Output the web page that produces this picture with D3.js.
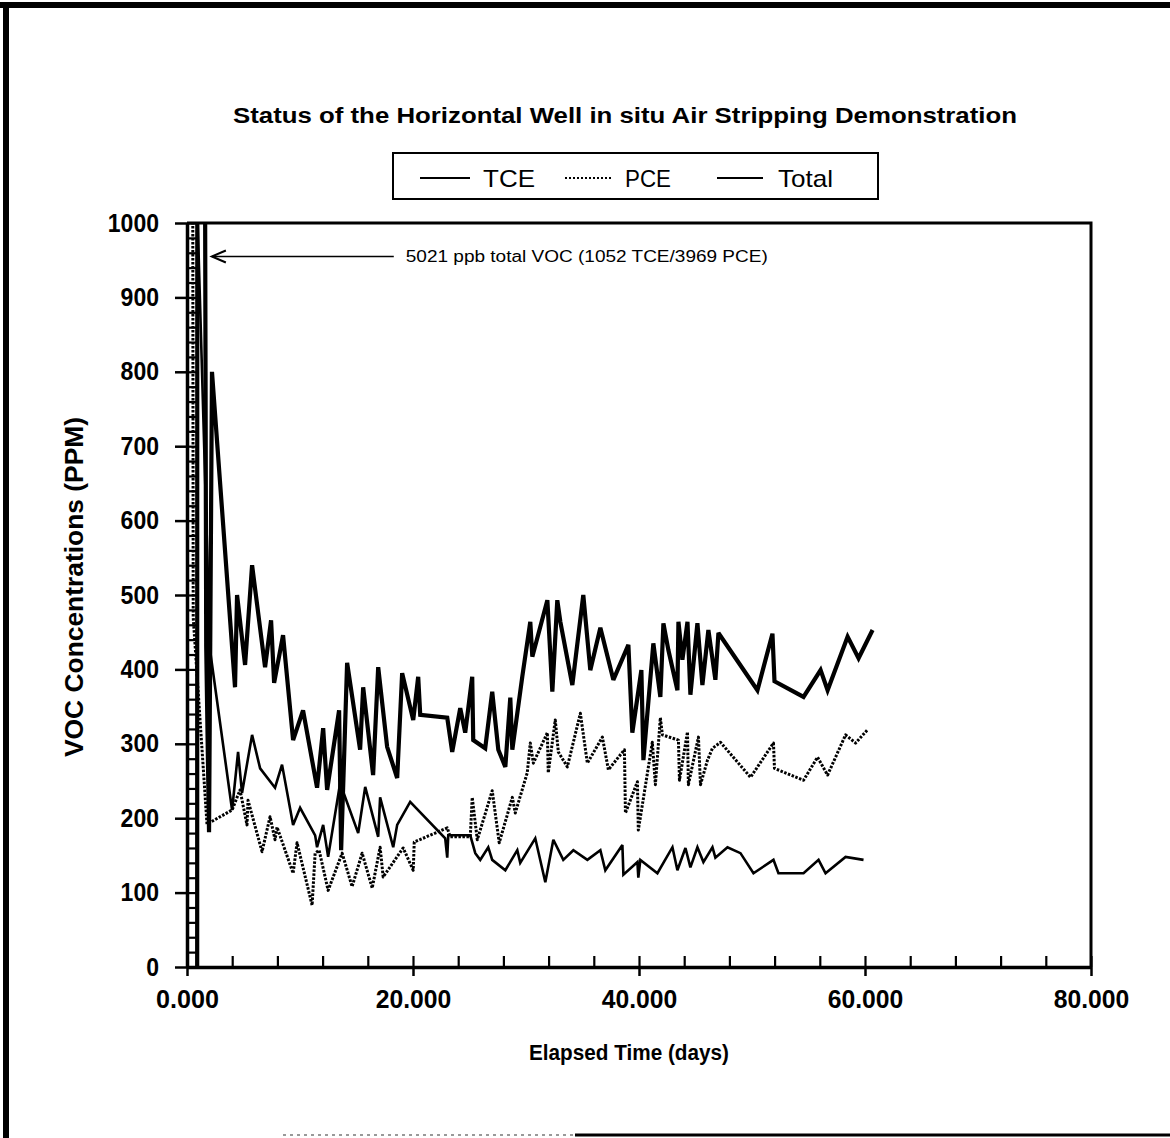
<!DOCTYPE html>
<html><head><meta charset="utf-8">
<script src="https://cdn.jsdelivr.net/npm/d3@7"></script>
<style>body{margin:0;background:#fff}svg{display:block}text{font-family:"Liberation Sans",Arial,Helvetica,sans-serif;fill:#000}</style>
</head><body><svg id="c" width="1170" height="1138"></svg>
<script>
const titleText = "Status of the Horizontal Well in situ Air Stripping Demonstration";
const xTitleText = "Elapsed Time (days)";
const yTitleText = "VOC Concentrations (PPM)";
const annotationText = "5021 ppb total VOC (1052 TCE/3969 PCE)";
const seriesNames = ["TCE", "PCE", "Total"];
const xTickValues = [0, 20, 40, 60, 80];
const xMinorStep = 4;
const yTickValues = [0, 100, 200, 300, 400, 500, 600, 700, 800, 900, 1000];
const yMinorStep = 20;
const annotationValue = 955;      // arrow height (ppm)
const annotationArrowDays = [2.2, 18.3];

// [elapsed days, ppm]
const totalData = [[0.9,0],[0.95,5021],[1.7,431],[1.95,181],[2.21,800],[4.25,376],[4.43,500],[5.14,406],[5.76,540],[6.91,403],[7.44,466],[7.71,382],[8.50,446],[9.39,305],[10.27,345],[11.51,241],[12.05,321],[12.40,238],[13.46,345],[13.64,157],[14.17,409],[15.32,292],[15.59,376],[16.47,258],[16.92,403],[17.71,296],[18.60,254],[19.04,395],[20.02,332],[20.46,390],[20.64,339],[23.03,335],[23.47,289],[24.18,348],[24.62,315],[25.24,390],[25.33,305],[26.39,294],[27.01,370],[27.55,292],[28.17,269],[28.61,362],[28.79,292],[29.67,390],[30.38,464],[30.56,417],[31.89,493],[32.33,370],[32.77,493],[33.04,464],[34.10,379],[35.07,500],[35.69,399],[36.58,456],[37.73,386],[39.06,433],[39.41,315],[40.21,399],[40.39,278],[41.27,435],[41.89,363],[42.16,462],[42.60,426],[43.40,372],[43.49,464],[43.84,413],[44.29,464],[44.55,366],[45.17,462],[45.61,379],[46.14,453],[46.76,386],[47.03,449],[50.48,372],[51.81,448],[51.99,384],[54.56,363],[56.07,399],[56.69,372],[58.46,444],[59.43,415],[60.67,453]];

const tceData = [[0.85,1052],[2.04,426],[3.99,211],[4.52,289],[4.87,234],[5.76,312],[6.47,267],[7.79,241],[8.41,272],[9.39,191],[10.01,214],[11.34,177],[11.51,161],[12.05,191],[12.49,148],[13.55,247],[15.15,180],[15.77,242],[16.92,175],[17.09,228],[18.25,161],[18.60,191],[19.75,222],[22.85,173],[23.03,147],[23.12,177],[25.07,177],[25.51,153],[25.95,144],[26.66,161],[27.01,144],[28.17,130],[29.23,157],[29.49,140],[30.82,173],[31.71,114],[32.42,171],[33.30,144],[34.19,157],[35.43,144],[36.58,157],[37.02,130],[38.53,164],[38.62,124],[39.86,141],[39.94,120],[40.12,144],[41.63,126],[42.96,161],[43.40,130],[44.11,160],[44.55,134],[45.17,161],[45.70,141],[46.50,161],[46.76,147],[47.83,161],[48.98,153],[50.13,126],[51.90,144],[52.34,126],[54.56,126],[55.89,144],[56.51,126],[58.28,148],[59.87,144]];

const pceData = [[0.3,3969],[0.55,470],[1.77,192],[3.99,211],[4.69,238],[5.31,191],[5.40,224],[6.64,155],[7.35,202],[7.79,171],[7.97,188],[9.39,126],[9.74,167],[11.07,83],[11.34,153],[11.69,157],[12.49,103],[13.73,153],[14.61,108],[15.50,153],[16.39,106],[17.09,161],[17.36,121],[19.13,160],[20.02,130],[20.11,168],[23.03,187],[23.29,175],[25.07,175],[25.24,228],[25.69,171],[27.01,237],[27.63,167],[28.79,228],[29.05,207],[30.11,261],[30.38,301],[30.65,274],[31.89,315],[31.97,261],[32.59,332],[32.86,289],[33.66,269],[34.81,341],[35.43,274],[36.76,309],[37.29,265],[38.71,292],[38.80,207],[39.86,249],[39.94,184],[41.18,302],[41.45,245],[41.89,335],[42.07,312],[43.49,305],[43.58,251],[44.29,316],[44.37,245],[45.26,309],[45.44,245],[46.06,278],[46.50,294],[47.21,302],[49.87,255],[51.90,301],[51.99,267],[54.56,251],[55.80,282],[56.69,258],[58.28,312],[59.17,301],[60.23,319]];

const svg = d3.select("#c");
const x = d3.scaleLinear().domain([0, 80]).range([187, 1091]);
const y = d3.scaleLinear().domain([0, 1000]).range([967, 223]);

// page border (scan frame)
svg.append("rect").attr("x", 0).attr("y", 2).attr("width", 1170).attr("height", 6).attr("fill", "#000");
svg.append("rect").attr("x", 3).attr("y", 2).attr("width", 6).attr("height", 1136).attr("fill", "#000");
svg.append("line").attr("x1", 283).attr("x2", 575).attr("y1", 1135).attr("y2", 1135)
  .attr("stroke", "#999").attr("stroke-width", 2).attr("stroke-dasharray", "3 4");
svg.append("line").attr("x1", 575).attr("x2", 1170).attr("y1", 1135).attr("y2", 1135)
  .attr("stroke", "#000").attr("stroke-width", 3);

// title
svg.append("text").attr("x", 625).attr("y", 123).attr("text-anchor", "middle")
  .attr("font-size", 22).attr("font-weight", "bold")
  .attr("textLength", 784).attr("lengthAdjust", "spacingAndGlyphs").text(titleText);

// legend
const lg = svg.append("g");
lg.append("rect").attr("x", 393).attr("y", 153).attr("width", 485).attr("height", 46)
  .attr("fill", "none").attr("stroke", "#000").attr("stroke-width", 2);
const legendItems = [
  {name: seriesNames[0], x1: 420, x2: 470, tx: 483, w: 2, dash: null, tl: 52},
  {name: seriesNames[1], x1: 565, x2: 613, tx: 625, w: 2, dash: "2 2", tl: 46},
  {name: seriesNames[2], x1: 717, x2: 763, tx: 778, w: 2.2, dash: null, tl: 55}
];
legendItems.forEach(it => {
  lg.append("line").attr("x1", it.x1).attr("x2", it.x2).attr("y1", 178).attr("y2", 178)
    .attr("stroke", "#000").attr("stroke-width", it.w).attr("stroke-dasharray", it.dash);
  lg.append("text").attr("x", it.tx).attr("y", 187).attr("font-size", 24)
    .attr("textLength", it.tl).attr("lengthAdjust", "spacingAndGlyphs").text(it.name);
});

// clip
svg.append("clipPath").attr("id", "clip").append("rect")
  .attr("x", x(0)).attr("y", y(1000)).attr("width", x(80) - x(0)).attr("height", y(0) - y(1000));

// inner minor ticks
const yInner = svg.append("g").attr("transform", `translate(${x(0)},0)`)
  .call(d3.axisRight(y).tickValues(d3.range(0, 1001, yMinorStep)).tickSize(11).tickFormat(""));
yInner.select(".domain").remove();
yInner.selectAll("line").attr("stroke-width", 2.2);
const xInner = svg.append("g").attr("transform", `translate(0,${y(0)})`)
  .call(d3.axisTop(x).tickValues(d3.range(0, 81, xMinorStep)).tickSize(11).tickFormat(""));
xInner.select(".domain").remove();
xInner.selectAll("line").attr("stroke-width", 2.2);

// frame top/right
svg.append("path").attr("d", `M${x(0)},${y(1000)}H${x(80)}V${y(0)}`)
  .attr("fill", "none").attr("stroke", "#000").attr("stroke-width", 3);

// axes
const yAxis = svg.append("g").attr("transform", `translate(${x(0)},0)`)
  .call(d3.axisLeft(y).tickValues(yTickValues).tickSize(12).tickSizeOuter(0).tickPadding(16).tickFormat(d3.format("d")));
yAxis.select(".domain").attr("stroke-width", 3.5);
yAxis.selectAll("line").attr("stroke-width", 2.5);
yAxis.selectAll("text").attr("font-size", 25).attr("font-weight", "bold")
  .attr("font-family", '"Liberation Sans",Arial,sans-serif')
  .attr("textLength", d => String(d).length * 12.8).attr("lengthAdjust", "spacingAndGlyphs");

const xAxis = svg.append("g").attr("transform", `translate(0,${y(0)})`)
  .call(d3.axisBottom(x).tickValues(xTickValues).tickSize(9).tickSizeOuter(0).tickPadding(14).tickFormat(d3.format(".3f")));
xAxis.select(".domain").attr("stroke-width", 3.5);
xAxis.selectAll("line").attr("stroke-width", 2.5);
xAxis.selectAll("text").attr("font-size", 25).attr("font-weight", "bold")
  .attr("font-family", '"Liberation Sans",Arial,sans-serif')
  .attr("textLength", d => d3.format(".3f")(d).length * 12.6).attr("lengthAdjust", "spacingAndGlyphs");

// axis titles
svg.append("text").attr("x", (x(0) + x(80)) / 2 - 10).attr("y", 1060).attr("text-anchor", "middle")
  .attr("font-size", 22).attr("font-weight", "bold")
  .attr("textLength", 200).attr("lengthAdjust", "spacingAndGlyphs").text(xTitleText);
svg.append("text").attr("transform", `translate(83,${(y(0) + y(1000)) / 2 - 8}) rotate(-90)`)
  .attr("text-anchor", "middle").attr("font-size", 25).attr("font-weight", "bold")
  .attr("textLength", 340).attr("lengthAdjust", "spacingAndGlyphs").text(yTitleText);

// series
const line = d3.line().x(d => x(d[0])).y(d => y(d[1]));
const plot = svg.append("g").attr("clip-path", "url(#clip)");
plot.append("path").datum(pceData).attr("d", line).attr("fill", "none").attr("stroke", "#000")
  .attr("stroke-width", 3).attr("stroke-dasharray", "2.5 1.5").attr("stroke-linejoin", "round");
plot.append("path").datum(tceData).attr("d", line).attr("fill", "none").attr("stroke", "#000")
  .attr("stroke-width", 2.6).attr("stroke-linejoin", "miter").attr("stroke-miterlimit", 3);
plot.append("path").datum(totalData).attr("d", line).attr("fill", "none").attr("stroke", "#000")
  .attr("stroke-width", 4.2).attr("stroke-linejoin", "miter").attr("stroke-miterlimit", 3);

// annotation arrow
const ay = y(annotationValue);
const ax0 = x(annotationArrowDays[0]), ax1 = x(annotationArrowDays[1]);
svg.append("line").attr("x1", ax0).attr("x2", ax1).attr("y1", ay).attr("y2", ay)
  .attr("stroke", "#000").attr("stroke-width", 1.6);
svg.append("path").attr("d", `M${ax0 + 14},${ay - 6}L${ax0},${ay}L${ax0 + 14},${ay + 6}`)
  .attr("fill", "none").attr("stroke", "#000").attr("stroke-width", 2);
svg.append("text").attr("x", ax1 + 12).attr("y", ay + 6).attr("font-size", 16)
  .attr("textLength", 362).attr("lengthAdjust", "spacingAndGlyphs").text(annotationText);
</script></body></html>
